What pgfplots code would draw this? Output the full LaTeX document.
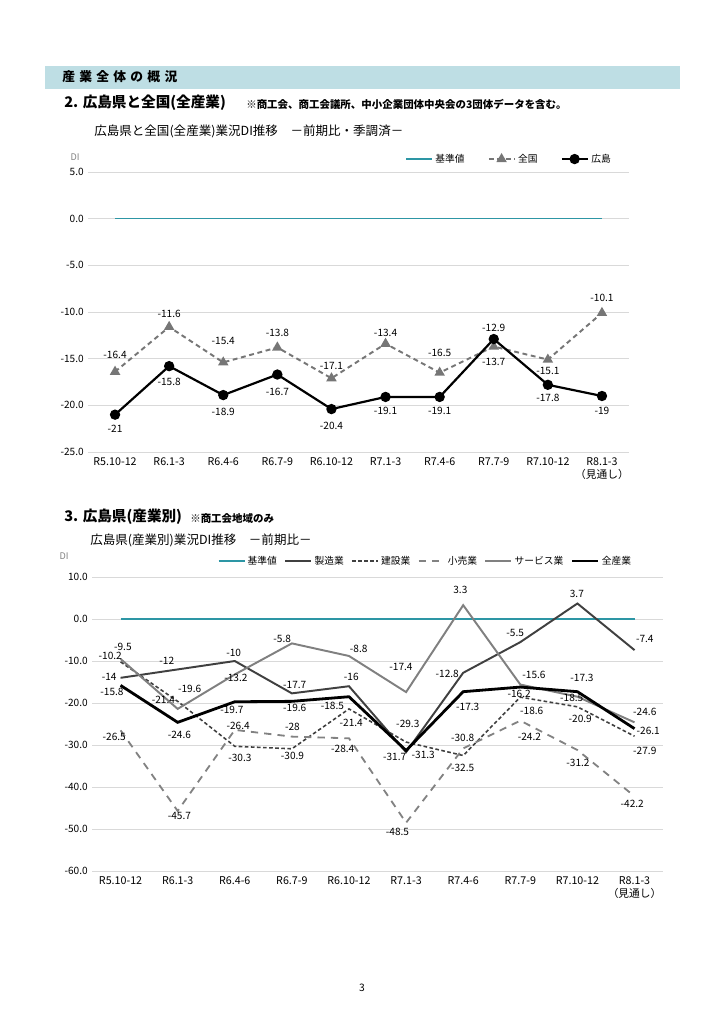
\documentclass[border=0pt]{standalone}
\usepackage{fontspec}
\setmainfont{Noto Sans CJK JP}
\usepackage{pgfplots}
\pgfplotsset{compat=1.18}
\definecolor{band}{RGB}{190,222,228}
\definecolor{base}{RGB}{45,150,165}
\definecolor{gridc}{RGB}{217,217,217}
\definecolor{natl}{RGB}{118,118,118}
\definecolor{mfg}{RGB}{64,64,64}
\definecolor{svc}{RGB}{128,128,128}
\definecolor{ret}{RGB}{130,130,130}
\newcommand\tk{\fontsize{8.3}{9.5}\selectfont}
\newcommand\xk{\fontsize{8.8}{10}\selectfont}
\newcommand\lgf{\fontsize{8}{9.5}\selectfont}
\pgfplotsset{
  common/.style={
    scale only axis, clip=false,
    xmin=-0.5, xmax=9.5,
    axis line style={draw=none},
    tick style={draw=none},
    ymajorgrids, grid style={gridc, line width=0.8pt},
    xtick={0,...,9},
    xticklabels={R5.10-12,R6.1-3,R6.4-6,R6.7-9,R6.10-12,R7.1-3,R7.4-6,R7.7-9,R7.10-12,{R8.1-3\\（見通し）}},
    xticklabel style={align=center, font=\xk, yshift=-1.5pt},
    yticklabel style={font=\tk},
    legend image code/.code={\draw[mark repeat=2,mark phase=2,#1] plot coordinates {(0cm,0cm)(0.37cm,0cm)(0.75cm,0cm)};},
  },
  labs/.style={draw=none, forget plot, nodes near coords, point meta=explicit symbolic,
    nodes near coords style={anchor=center, font=\tk, inner sep=0pt, text=black}},
}
\begin{document}
\begin{tikzpicture}
\begin{scope}[x=0.8218pt,y=-0.8218pt]
\useasboundingbox (0,0) rectangle (724,1024);
\fill[band] (45,66) rectangle (680,89);
\node[anchor=west,font=\fontsize{10.5}{12}\selectfont\bfseries] at (58,77) {産\kern3.5pt 業\kern3.5pt 全\kern3.5pt 体\kern3.5pt の\kern3.5pt 概\kern3.5pt 況};
\node[anchor=west,font=\fontsize{12}{15}\selectfont\bfseries] at (60,103) {2. 広島県と全国(全産業)};
\node[anchor=west,font=\fontsize{8.6}{10}\selectfont\bfseries] at (242,104) {※商工会、商工会議所、中小企業団体中央会の3団体データを含む。};
\node[anchor=west,font=\fontsize{10.3}{12}\selectfont] at (90,131) {広島県と全国(全産業)業況DI推移\quad －前期比・季調済－};
\node[font=\fontsize{7.5}{8}\selectfont, text=gray] at (75,157) {DI};
\node[anchor=west,font=\fontsize{12}{15}\selectfont\bfseries] at (60,517) {3. 広島県(産業別)};
\node[anchor=west,font=\fontsize{8.6}{10}\selectfont\bfseries] at (186,519) {※商工会地域のみ};
\node[anchor=west,font=\fontsize{10.3}{12}\selectfont] at (86,540) {広島県(産業別)業況DI推移\quad －前期比－};
\node[font=\fontsize{7.5}{8}\selectfont, text=gray] at (64,556) {DI};
\node[font=\fontsize{8.5}{10}\selectfont] at (362,988) {3};
\end{scope}

\begin{axis}[common,
  at={(72.32pt,-371.45pt)}, anchor=south west,
  width=444.6pt, height=230.1pt,
  ymin=-25, ymax=5,
  ytick={-25,-20,-15,-10,-5,0,5},
  yticklabels={-25.0,-20.0,-15.0,-10.0,-5.0,0.0,5.0},
  legend columns=3,
  legend style={at={(0.978,1.01)}, anchor=south east, draw=none, fill=none, font=\lgf,
    /tikz/every even column/.append style={column sep=17pt}},
]
\addplot[base, line width=1pt] coordinates {(0,0)(9,0)};
\addlegendentry{基準値}
\addplot[natl, line width=1.6pt, dash pattern=on 4pt off 3pt, mark=triangle*, mark size=3.4pt, mark options={solid, fill=natl}]
 coordinates {(0,-16.4)(1,-11.6)(2,-15.4)(3,-13.8)(4,-17.1)(5,-13.4)(6,-16.5)(7,-13.7)(8,-15.1)(9,-10.1)};
\addlegendentry{全国}
\addplot[black, line width=1.8pt, mark=*, mark size=3.3pt]
 coordinates {(0,-21)(1,-15.8)(2,-18.9)(3,-16.7)(4,-20.4)(5,-19.1)(6,-19.1)(7,-12.9)(8,-17.8)(9,-19)};
\addlegendentry{広島}
\addplot[labs] table[meta=t, row sep=\\] {
x y t\\
0 -14.6 -16.4\\
0 -22.5 -21\\
1 -10.15 -11.6\\
1 -17.45 -15.8\\
2 -13.15 -15.4\\
2 -20.65 -18.9\\
3 -12.2 -13.8\\
3 -18.6 -16.7\\
4 -15.75 -17.1\\
4 -22.25 -20.4\\
5 -12.2 -13.4\\
5 -20.6 -19.1\\
6 -14.4 -16.5\\
6 -20.6 -19.1\\
7 -11.7 -12.9\\
7 -15.3 -13.7\\
8 -16.3 -15.1\\
8 -19.15 -17.8\\
9 -8.5 -10.1\\
9 -20.6 -19\\
};
\end{axis}

\begin{axis}[common,
  at={(75.61pt,-715.79pt)}, anchor=south west,
  width=469.3pt, height=241.6pt,
  ymin=-60, ymax=10,
  ytick={-60,-50,-40,-30,-20,-10,0,10},
  yticklabels={-60.0,-50.0,-40.0,-30.0,-20.0,-10.0,0.0,10.0},
  legend columns=6,
  legend style={at={(0.955,1.02)}, anchor=south east, draw=none, fill=none, font=\lgf,
    /tikz/every even column/.append style={column sep=4pt}},
]
\addplot[base, line width=1pt] coordinates {(0,0)(9,0)};
\addlegendentry{基準値}
\addplot[mfg, line width=1.6pt]
 coordinates {(0,-14)(1,-12)(2,-10)(3,-17.7)(4,-16)(5,-31.7)(6,-12.8)(7,-5.5)(8,3.7)(9,-7.4)};
\addlegendentry{製造業}
\addplot[mfg, line width=1.3pt, dash pattern=on 3pt off 2pt]
 coordinates {(0,-10.2)(1,-19.6)(2,-30.3)(3,-30.9)(4,-21.4)(5,-29.3)(6,-32.5)(7,-18.6)(8,-20.9)(9,-27.9)};
\addlegendentry{建設業}
\addplot[ret, line width=1.5pt, dash pattern=on 6pt off 5pt]
 coordinates {(0,-26.5)(1,-45.7)(2,-26.4)(3,-28)(4,-28.4)(5,-48.5)(6,-30.8)(7,-24.2)(8,-31.2)(9,-42.2)};
\addlegendentry{小売業}
\addplot[svc, line width=1.6pt]
 coordinates {(0,-9.5)(1,-21.4)(2,-13.2)(3,-5.8)(4,-8.8)(5,-17.4)(6,3.3)(7,-15.6)(8,-18.5)(9,-24.6)};
\addlegendentry{サービス業}
\addplot[black, line width=2.3pt]
 coordinates {(0,-15.8)(1,-24.6)(2,-19.7)(3,-19.6)(4,-18.5)(5,-31.3)(6,-17.3)(7,-16.2)(8,-17.3)(9,-26.1)};
\addlegendentry{全産業}
\addplot[labs] table[meta=t, row sep=\\] {
x y t\\
5.95 6.9 3.3\\
7.99 5.95 3.7\\
0.04 -6.6 -9.5\\
-0.18 -8.74 -10.2\\
-0.2 -13.74 -14\\
-0.15 -17.3 -15.8\\
-0.11 -28.17 -26.5\\
0.81 -10.0 -12\\
1.21 -16.74 -19.6\\
0.75 -19.36 -21.4\\
1.03 -27.62 -24.6\\
1.98 -8.02 -10\\
2.02 -13.98 -13.2\\
1.95 -21.67 -19.7\\
2.06 -25.48 -26.4\\
2.83 -4.83 -5.8\\
3.05 -15.79 -17.7\\
3.05 -21.26 -19.6\\
3.01 -25.79 -28\\
4.17 -7.07 -8.8\\
4.04 -13.88 -16\\
3.71 -20.71 -18.5\\
4.04 -24.69 -21.4\\
4.91 -11.36 -17.4\\
5.03 -25.07 -29.3\\
5.72 -13.1 -12.8\\
6.08 -21.02 -17.3\\
5.99 -28.26 -30.8\\
6.91 -3.26 -5.5\\
7.24 -13.33 -15.6\\
6.98 -17.93 -16.2\\
7.2 -21.9 -18.6\\
7.16 -28.02 -24.2\\
8.08 -14.12 -17.3\\
7.9 -18.88 -18.5\\
8.05 -23.88 -20.9\\
9.18 -4.83 -7.4\\
9.18 -22.21 -24.6\\
9.24 -26.67 -26.1\\
2.09 -33.17 -30.3\\
3.01 -32.62 -30.9\\
3.89 -30.95 -28.4\\
4.8 -32.93 -31.7\\
5.3 -32.38 -31.3\\
5.99 -35.55 -32.5\\
8.01 -34.21 -31.2\\
9.18 -31.36 -27.9\\
1.03 -46.9 -45.7\\
4.85 -50.64 -48.5\\
8.96 -44.05 -42.2\\
};
\end{axis}
\end{tikzpicture}
\end{document}
